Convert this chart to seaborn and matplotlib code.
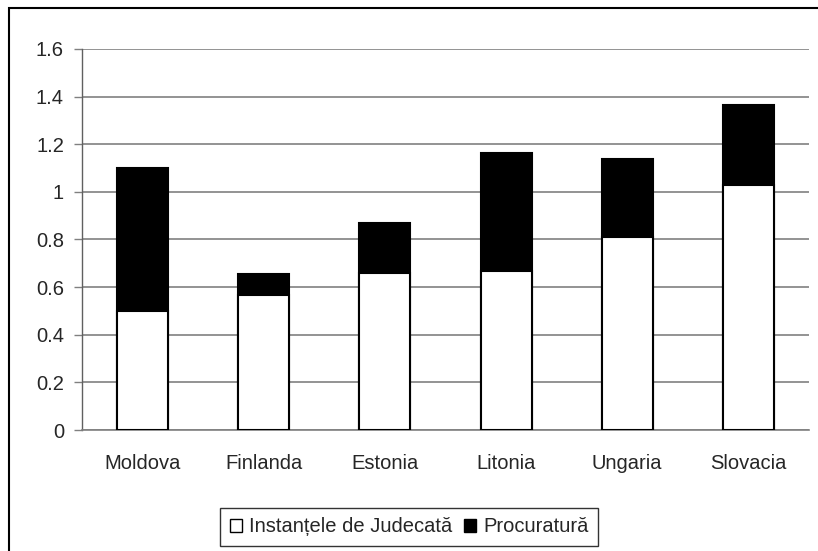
import numpy as np
import pandas as pd
import matplotlib
matplotlib.use("Agg")
import matplotlib.pyplot as plt
from matplotlib.patches import Patch, Rectangle
import seaborn as sns

sns.set_style("white")
plt.rcParams['font.family'] = ['Liberation Sans', 'DejaVu Sans']

# date
tari = ["Moldova", "Finlanda", "Estonia", "Litonia", "Ungaria", "Slovacia"]
instante = [0.50, 0.567, 0.66, 0.668, 0.812, 1.03]
procuratura = [0.60, 0.088, 0.208, 0.495, 0.325, 0.335]

df = pd.DataFrame({"tara": tari, "instante": instante, "procuratura": procuratura})
df["total"] = df["instante"] + df["procuratura"]

fig = plt.figure(figsize=(8.18, 5.51), dpi=100)
ax = fig.add_axes([82/818, 1 - 430/551, (809 - 82)/818, (430 - 49)/551])

# bara neagra = total, bara alba = instante peste ea
sns.barplot(data=df, x="tara", y="total", color="black", edgecolor="black",
            linewidth=1.5, width=0.42, saturation=1, ax=ax, zorder=3)
sns.barplot(data=df, x="tara", y="instante", color="white", edgecolor="black",
            linewidth=1.5, width=0.42, saturation=1, ax=ax, zorder=4)

ax.set_ylim(0, 1.6)
ax.set_xlim(-0.5, 5.5)
ax.set_yticks(np.arange(0, 1.61, 0.2))
ax.set_yticklabels(["0", "0.2", "0.4", "0.6", "0.8", "1", "1.2", "1.4", "1.6"])
ax.yaxis.grid(True, color="#808080", linewidth=1.2, zorder=0)
ax.set_axisbelow(True)
ax.set_xlabel("")
ax.set_ylabel("")

ax.set_xticks(np.arange(-0.5, 5.6, 1), minor=True)
ax.tick_params(axis="x", which="major", length=0, pad=17, labelsize=14.5)
ax.tick_params(axis="x", which="minor", length=5, width=1, color="#808080", direction="out")
ax.tick_params(axis="y", which="major", length=6, width=1, color="#808080",
               direction="out", left=True, pad=7, labelsize=14.5)

for s in ["top", "right"]:
    ax.spines[s].set_visible(False)
ax.spines["left"].set_color("#606060")
ax.spines["left"].set_linewidth(1)
ax.spines["bottom"].set_color("#808080")
ax.spines["bottom"].set_linewidth(1.2)

handles = [Patch(facecolor="white", edgecolor="black", linewidth=1),
           Patch(facecolor="black", edgecolor="black", linewidth=1)]
leg = fig.legend(handles, ["Instanțele de Judecată", "Procuratură"],
                 loc="center", bbox_to_anchor=(409/818, 1 - 527/551), ncol=2,
                 frameon=True, fancybox=False, edgecolor="black",
                 fontsize=14.5, handlelength=0.6, handleheight=0.6,
                 handletextpad=0.35, columnspacing=0.6, borderpad=0.45,
                 borderaxespad=0.5)
leg.get_frame().set_linewidth(1)

# chenar exterior
fig.patches.append(Rectangle((9/818, -0.05), 1.2, 1 - 8/551 + 0.05,
                             transform=fig.transFigure, fill=False,
                             edgecolor="black", linewidth=1.5))

fig.savefig("out.png", dpi=100)
